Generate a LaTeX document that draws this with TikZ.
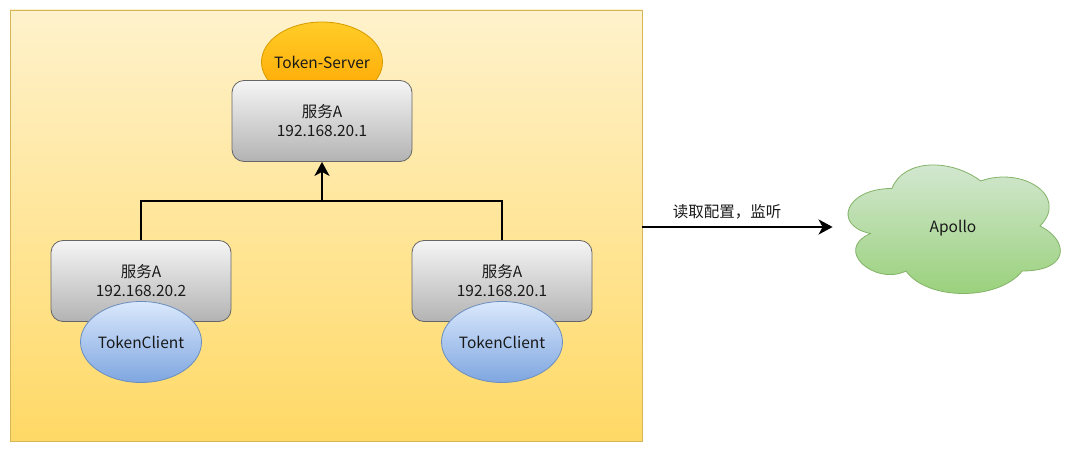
\documentclass[tikz,border=0pt]{standalone}
\usepackage{fontspec}
\setmainfont{Noto Sans CJK SC}
\usetikzlibrary{shapes.geometric,arrows.meta}
\definecolor{contTop}{HTML}{FFF2CC}
\definecolor{contBot}{HTML}{FFD966}
\definecolor{contLine}{HTML}{D6B656}
\definecolor{grayTop}{HTML}{F5F5F5}
\definecolor{grayBot}{HTML}{B3B3B3}
\definecolor{grayLine}{HTML}{666666}
\definecolor{orTop}{HTML}{FFCD28}
\definecolor{orBot}{HTML}{FFA500}
\definecolor{orLine}{HTML}{D79B00}
\definecolor{blTop}{HTML}{DAE8FC}
\definecolor{blBot}{HTML}{7EA6E0}
\definecolor{blLine}{HTML}{6C8EBF}
\definecolor{grTop}{HTML}{D5E8D4}
\definecolor{grBot}{HTML}{97D077}
\definecolor{grLine}{HTML}{82B366}
\tikzset{
  txt/.style={font=\fontsize{15.5}{19}\selectfont, text=black!90},
  svcbox/.style={txt, draw=grayLine, line width=0.8pt, rounded corners=12pt, top color=grayTop, bottom color=grayBot,
    minimum width=180pt, minimum height=81pt, align=center, inner sep=0pt},
  tokserver/.style={txt, ellipse, draw=orLine, line width=0.8pt, top color=orTop, bottom color=orBot,
    minimum width=121pt, minimum height=80pt, inner ysep=0pt, inner xsep=-25pt},
  tokclient/.style={txt, ellipse, draw=blLine, line width=0.8pt, top color=blTop, bottom color=blBot,
    minimum width=121pt, minimum height=81pt, inner ysep=0pt, inner xsep=-25pt},
  cloudpath/.style={draw=grLine, line width=0.8pt, top color=grTop, bottom color=grBot},
  conn/.style={line width=2.6pt, black},
  arr/.style={conn, -{Stealth[length=14pt,width=15pt,inset=4pt]}},
}
\begin{document}
\begin{tikzpicture}[x=1pt,y=-1pt]
\path[use as bounding box] (0,0) rectangle (1080,452);
\fill[white] (0,0) rectangle (1080,452);
% container
\path[draw=contLine, line width=0.8pt, top color=contTop, bottom color=contBot] (10,10) rectangle (642,441);
\coordinate (contR) at (642,227);
% top
\node[tokserver] (ts) at (322,62) {Token-Server};
\node[svcbox] (top) at (322,121) {服务A\\192.168.20.1};
% bottom left
\node[svcbox] (bl) at (141,281) {服务A\\192.168.20.2};
\node[tokclient] (cl) at (141,342) {TokenClient};
% bottom right
\node[svcbox] (br) at (502,281) {服务A\\192.168.20.1};
\node[tokclient] (cr) at (502,342) {TokenClient};
% connectors
\coordinate (jn) at (322,201);
\draw[conn] (bl.north) |- (jn) -| (br.north);
\draw[arr] (jn) -- (top.south);
% apollo cloud
\path[cloudpath] (891.85,188.5)
  .. controls (844.45,188.5) and (832.6,226) .. (870.52,233.5)
  .. controls (832.6,250) and (875.26,286) .. (906.07,271)
  .. controls (927.4,301) and (998.5,301) .. (1022.2,271)
  .. controls (1069.6,271) and (1069.6,241) .. (1040.0,226)
  .. controls (1069.6,196) and (1022.2,166) .. (980.7,181)
  .. controls (951.1,158.5) and (903.7,158.5) .. (891.85,188.5) -- cycle;
\node[txt] (ap) at (953,228) {Apollo};
\coordinate (apL) at (832.6,227);
\draw[arr] (contR) -- (apL);
\node[txt, anchor=center] (lbl) at (727,212) {读取配置，监听};
\end{tikzpicture}
\end{document}
